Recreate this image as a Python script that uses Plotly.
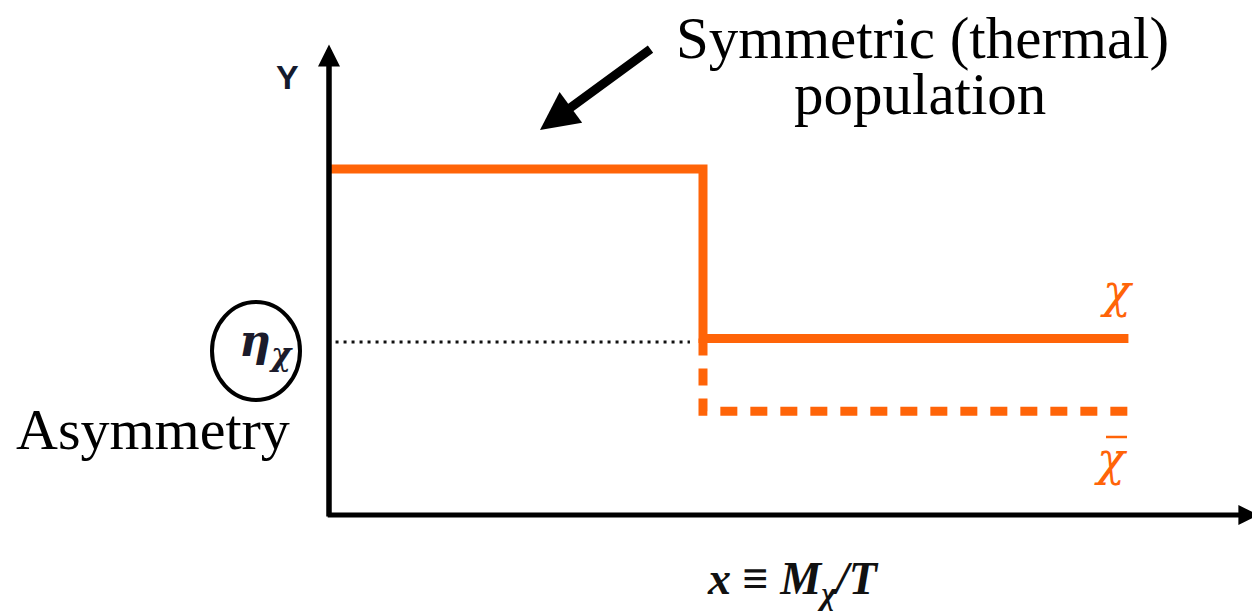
import plotly.graph_objects as go

# ---- data (schematic units) ----
chi_x = [0.0, 4.0, 4.0, 8.55]          # symmetric (thermal) then chi after freeze-out
chi_y = [10.0, 10.0, 5.1, 5.1]
chibar_x = [4.0, 4.0, 8.55]            # anti-particle population
chibar_y = [5.1, 3.0, 3.0]
eta_x = [0.07, 3.86]                   # asymmetry level guide
eta_y = [5.0, 5.0]
y_axis_top = 13.6
x_axis_end = 9.94

OFF = 8                     # page body margin
W, H = 1260 - OFF, 616 - OFF
ORANGE = "#FF6408"

# pixel calibration of the axes (layout), in page pixels
X0_PX, X_UNIT = 329.0 - OFF, 93.5
Y0_PX, Y_UNIT = 515.0 - OFF, 34.6
xr = [-X0_PX / X_UNIT, (W - X0_PX) / X_UNIT]
yr = [-(H - Y0_PX) / Y_UNIT, Y0_PX / Y_UNIT]

def px(x):
    return (x - OFF) / W

def py(y):
    return 1 - (y - OFF) / H

fig = go.Figure()
fig.add_trace(go.Scatter(x=chibar_x, y=chibar_y, mode="lines",
                         line=dict(color=ORANGE, width=9, dash="17px,13px"),
                         hoverinfo="skip"))
fig.add_trace(go.Scatter(x=chi_x, y=chi_y, mode="lines",
                         line=dict(color=ORANGE, width=9),
                         hoverinfo="skip"))
fig.add_trace(go.Scatter(x=eta_x, y=eta_y, mode="lines",
                         line=dict(color="#111111", width=3, dash="3px,5px"),
                         hoverinfo="skip"))

ann = []
# axes with arrows
ann.append(dict(x=0, y=y_axis_top, ax=0, ay=-0.09, xref="x", yref="y", axref="x", ayref="y",
                text="", showarrow=True, arrowhead=2, arrowwidth=5.5, arrowsize=0.8,
                arrowcolor="black", standoff=0, startstandoff=0))
ann.append(dict(x=x_axis_end, y=0, ax=-0.03, ay=0, xref="x", yref="y", axref="x", ayref="y",
                text="", showarrow=True, arrowhead=2, arrowwidth=5, arrowsize=0.8,
                arrowcolor="black", standoff=0, startstandoff=0))
# big pointer arrow
ann.append(dict(x=px(540), y=py(130), ax=112, ay=-82, xref="paper", yref="paper",
                text="", showarrow=True, arrowhead=2, arrowwidth=9, arrowsize=0.85,
                arrowcolor="black", standoff=0))

serif = "Liberation Serif"
ann.append(dict(x=px(922), y=py(38), xref="paper", yref="paper", text="Symmetric (thermal)",
                showarrow=False, font=dict(family=serif, size=59, color="black"),
                xanchor="center", yanchor="middle"))
ann.append(dict(x=px(920), y=py(94), xref="paper", yref="paper", text="population",
                showarrow=False, font=dict(family=serif, size=59, color="black"),
                xanchor="center", yanchor="middle"))
ann.append(dict(x=px(153), y=py(429), xref="paper", yref="paper", text="Asymmetry",
                showarrow=False, font=dict(family=serif, size=58, color="black"),
                xanchor="center", yanchor="middle"))
ann.append(dict(x=px(287), y=py(77), xref="paper", yref="paper", text="<b>Y</b>",
                showarrow=False, font=dict(family="Liberation Sans", size=34, color="#141a2e"),
                xanchor="center", yanchor="middle"))
ann.append(dict(x=px(266), y=py(343), xref="paper", yref="paper",
                text="<b><i>η<sub>χ</sub></i></b>",
                showarrow=False, font=dict(family="DejaVu Serif", size=44, color="#1b1b2b"),
                xanchor="center", yanchor="middle"))
ann.append(dict(x=px(1117), y=py(291), xref="paper", yref="paper", text="<i>χ</i>",
                showarrow=False, font=dict(family="DejaVu Serif", size=46, color=ORANGE),
                xanchor="center", yanchor="middle"))
ann.append(dict(x=px(1111), y=py(459), xref="paper", yref="paper", text="<i>χ</i>",
                showarrow=False, font=dict(family="DejaVu Serif", size=46, color=ORANGE),
                xanchor="center", yanchor="middle"))
ann.append(dict(x=px(793), y=py(582), xref="paper", yref="paper",
                text="<b><i>x ≡ M<sub>χ</sub>/T</i></b>",
                showarrow=False, font=dict(family=serif, size=46, color="#111111"),
                xanchor="center", yanchor="middle"))

shapes = [
    dict(type="circle", xref="paper", yref="paper", x0=px(212), x1=px(300),
         y0=py(400), y1=py(302), line=dict(color="black", width=4)),
    dict(type="line", xref="paper", yref="paper", x0=px(1106), x1=px(1127),
         y0=py(437), y1=py(437), line=dict(color=ORANGE, width=2.5)),
]

fig.update_layout(
    width=W, height=H, margin=dict(l=0, r=0, t=0, b=0),
    paper_bgcolor="white", plot_bgcolor="white", showlegend=False,
    xaxis=dict(range=xr, visible=False, fixedrange=True),
    yaxis=dict(range=yr, visible=False, fixedrange=True),
    annotations=ann, shapes=shapes,
)
fig.write_html("out.html")
